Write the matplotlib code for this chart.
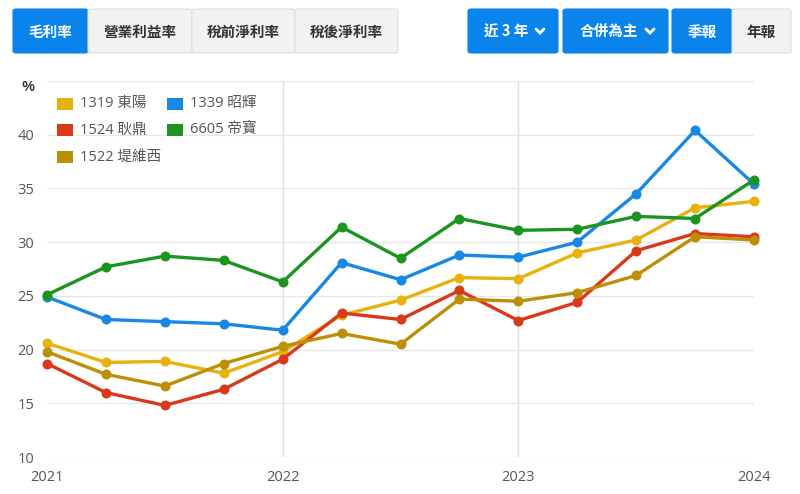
import matplotlib
matplotlib.use("Agg")
import matplotlib.pyplot as plt
from matplotlib.patches import FancyBboxPatch, Rectangle
from matplotlib.lines import Line2D

plt.rcParams['font.family'] = ['Open Sans', 'Noto Sans CJK TC', 'DejaVu Sans']

# ---- data ----
quarters = list(range(13))  # 2021Q1 .. 2024Q1
year_ticks = [0, 4, 8, 12]
year_labels = ['2021', '2022', '2023', '2024']
names = ['1319 東陽', '1339 昭輝', '1524 耿鼎', '6605 帝寶', '1522 堤維西']
colors = ['#e8b20c', '#1888e8', '#d9391a', '#1b9420', '#bc8f06']
s1319 = [20.6, 18.8, 18.9, 17.8, 19.8, 23.2, 24.6, 26.7, 26.6, 29.0, 30.2, 33.2, 33.8]
s1339 = [24.9, 22.8, 22.6, 22.4, 21.8, 28.1, 26.5, 28.8, 28.6, 30.0, 34.5, 40.4, 35.4]
s1524 = [18.7, 16.0, 14.8, 16.3, 19.1, 23.4, 22.8, 25.5, 22.7, 24.4, 29.2, 30.8, 30.5]
s6605 = [25.1, 27.7, 28.7, 28.3, 26.3, 31.4, 28.5, 32.2, 31.1, 31.2, 32.4, 32.2, 35.8]
s1522 = [19.8, 17.7, 16.6, 18.7, 20.3, 21.5, 20.5, 24.7, 24.5, 25.3, 26.9, 30.5, 30.2]
series = [s1319, s1339, s1524, s6605, s1522]
y_ticks = [10, 15, 20, 25, 30, 35, 40]

W, H = 800, 494
fig = plt.figure(figsize=(W / 100, H / 100), dpi=100)
fig.patch.set_facecolor('white')

def fx(px):
    return px / W

def fy(py):
    return 1 - py / H

# axes placement
left, right, top, bottom = 47, 754, 81, 457
ax = fig.add_axes([fx(left), fy(bottom), fx(right - left), (bottom - top) / H])
ax.set_xlim(0, 12)
ax.set_ylim(10, 45)
for sp in ax.spines.values():
    sp.set_visible(False)
ax.set_facecolor('none')

for yv in [10, 15, 20, 25, 30, 35, 40, 45]:
    ax.axhline(yv, color='#e6e6e6', lw=1.0, zorder=0)
for xv in [4, 8]:
    ax.axvline(xv, color='#e0e0e0', lw=1.0, zorder=0)

for vals, c in zip(series, colors):
    ax.plot(quarters, vals, color=c, lw=2.4, marker='o', ms=7.2,
            markeredgewidth=0, solid_joinstyle='round', clip_on=False, zorder=3)

ax.set_xticks(year_ticks)
ax.set_xticklabels(year_labels)
ax.set_yticks(y_ticks)
ax.tick_params(axis='both', length=0, labelsize=10.5, labelcolor='#555555')
ax.tick_params(axis='x', pad=9)
ax.tick_params(axis='y', pad=9)
fig.text(fx(28), fy(87), '%', ha='center', va='center',
         fontsize=11, color='#333333', fontweight='semibold')

# legend (manual, row-major, 2 columns)
leg_pos = [(57, 104), (167, 104), (57, 130), (167, 130), (57, 157)]
for (px, py), name, c in zip(leg_pos, names, colors):
    fig.add_artist(Rectangle((fx(px), fy(py + 6)), 16 / W, 12 / H,
                             transform=fig.transFigure, facecolor=c, edgecolor='none'))
    fig.text(fx(px + 23), fy(py), name, ha='left', va='center',
             fontsize=10.5, color='#555555')

# top buttons
blue = '#0a84eb'
gray = '#f2f2f2'
border = '#dddddd'

def button(x0, x1, label, active, chevron=False):
    y0, y1 = 9, 53
    fc = blue if active else gray
    ec = blue if active else border
    p = FancyBboxPatch((fx(x0), fy(y1)), fx(x1 - x0), (y1 - y0) / H,
                       boxstyle='round,pad=0,rounding_size=0.004',
                       transform=fig.transFigure, facecolor=fc, edgecolor=ec, lw=0.8)
    fig.add_artist(p)
    tc = 'white' if active else '#333333'
    cx = (x0 + x1) / 2 - (7 if chevron else 0)
    fig.text(fx(cx), fy(31.5), label, ha='center', va='center',
             fontsize=10.5, fontweight='bold', color=tc,
             family=['Noto Sans CJK TC', 'DejaVu Sans'])
    if chevron:
        ax0 = x1 - 22
        fig.add_artist(Line2D([fx(ax0), fx(ax0 + 4), fx(ax0 + 8)],
                              [fy(29), fy(33), fy(29)],
                              transform=fig.transFigure, color=tc, lw=2.0,
                              solid_capstyle='round', solid_joinstyle='miter'))

button(13, 88, '毛利率', True)
button(88, 192, '營業利益率', False)
button(192, 295, '稅前淨利率', False)
button(295, 398, '稅後淨利率', False)
button(468, 558, '近 3 年', True, chevron=True)
button(563, 668, '合併為主', True, chevron=True)
button(672, 732, '季報', True)
button(732, 791, '年報', False)

fig.savefig('out.png', dpi=100, facecolor='white')
